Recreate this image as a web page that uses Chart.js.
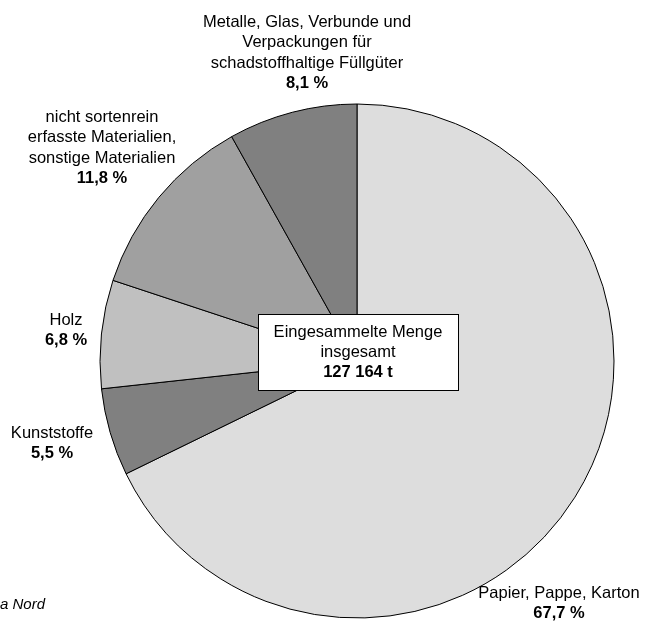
<!DOCTYPE html>
<html>
<head>
<meta charset="utf-8">
<script src="https://cdn.jsdelivr.net/npm/chart.js@4/dist/chart.umd.min.js"></script>
<style>
  html, body { margin: 0; padding: 0; background: #fff; }
  #wrap { width: 645px; height: 621px; position: relative; }
</style>
</head>
<body>
<div id="wrap"><canvas id="chart" width="645" height="621"></canvas></div>
<script>
// Data
const categories = [
    ['Papier, Pappe, Karton'],
    ['Kunststoffe'],
    ['Holz'],
    ['nicht sortenrein', 'erfasste Materialien,', 'sonstige Materialien'],
    ['Metalle, Glas, Verbunde und', 'Verpackungen für', 'schadstoffhaltige Füllgüter']
];
const shares = [67.7, 5.5, 6.8, 11.8, 8.1];
const totalText = ['Eingesammelte Menge', 'insgesamt'];
const totalValue = '127 164 t';
const sourceText = 'a Nord';

// Styles and label anchors
const sliceColors = ['#dddddd', '#808080', '#c0c0c0', '#a0a0a0', '#808080'];
const labelPos = [
    { x: 559, y: 593 },
    { x: 52, y: 433 },
    { x: 66, y: 320 },
    { x: 102, y: 117 },
    { x: 307, y: 22 }
];
const FONT = '"Liberation Sans", Arial, sans-serif';
const LINE = 20.5;

const labelsPlugin = {
    id: 'labelsPlugin',
    afterDraw(chart) {
        const ctx = chart.ctx;
        ctx.save();
        ctx.fillStyle = '#000';
        ctx.textAlign = 'center';
        ctx.textBaseline = 'middle';
        categories.forEach(function (lines, i) {
            const p = labelPos[i];
            ctx.font = '16.5px ' + FONT;
            lines.forEach(function (t, j) {
                ctx.fillText(t, p.x, p.y + j * LINE);
            });
            ctx.font = 'bold 16.5px ' + FONT;
            ctx.fillText(shares[i].toFixed(1).replace('.', ',') + ' %', p.x, p.y + lines.length * LINE);
        });

        // box in the middle
        const a = chart.chartArea;
        const cx = (a.left + a.right) / 2 + 1;
        const cy = (a.top + a.bottom) / 2 - 9;
        const w = 200, h = 76;
        ctx.fillStyle = '#fff';
        ctx.fillRect(cx - w / 2, cy - h / 2, w, h);
        ctx.strokeStyle = '#000';
        ctx.lineWidth = 1;
        ctx.strokeRect(Math.round(cx - w / 2) + 0.5, Math.round(cy - h / 2) + 0.5, w, h);
        ctx.fillStyle = '#000';
        ctx.font = '16.5px ' + FONT;
        ctx.fillText(totalText[0], cx, cy - 20);
        ctx.fillText(totalText[1], cx, cy);
        ctx.font = 'bold 16.5px ' + FONT;
        ctx.fillText(totalValue, cx, cy + 20);

        // source
        ctx.textAlign = 'left';
        ctx.font = 'italic 15px ' + FONT;
        ctx.fillText(sourceText, 0, 605);
        ctx.restore();
    }
};

const chart = new Chart(document.getElementById('chart'), {
    type: 'pie',
    data: {
        labels: categories.map(function (c) { return c.join(' '); }),
        datasets: [{
            data: shares,
            backgroundColor: sliceColors,
            borderColor: '#000',
            borderWidth: 1
        }]
    },
    options: {
        responsive: false,
        animation: false,
        radius: 257,
        layout: {
            padding: { left: 100, right: 31, top: 104, bottom: 3 }
        },
        plugins: {
            legend: { display: false },
            tooltip: { enabled: false }
        }
    },
    plugins: [labelsPlugin]
});
</script>
</body>
</html>
